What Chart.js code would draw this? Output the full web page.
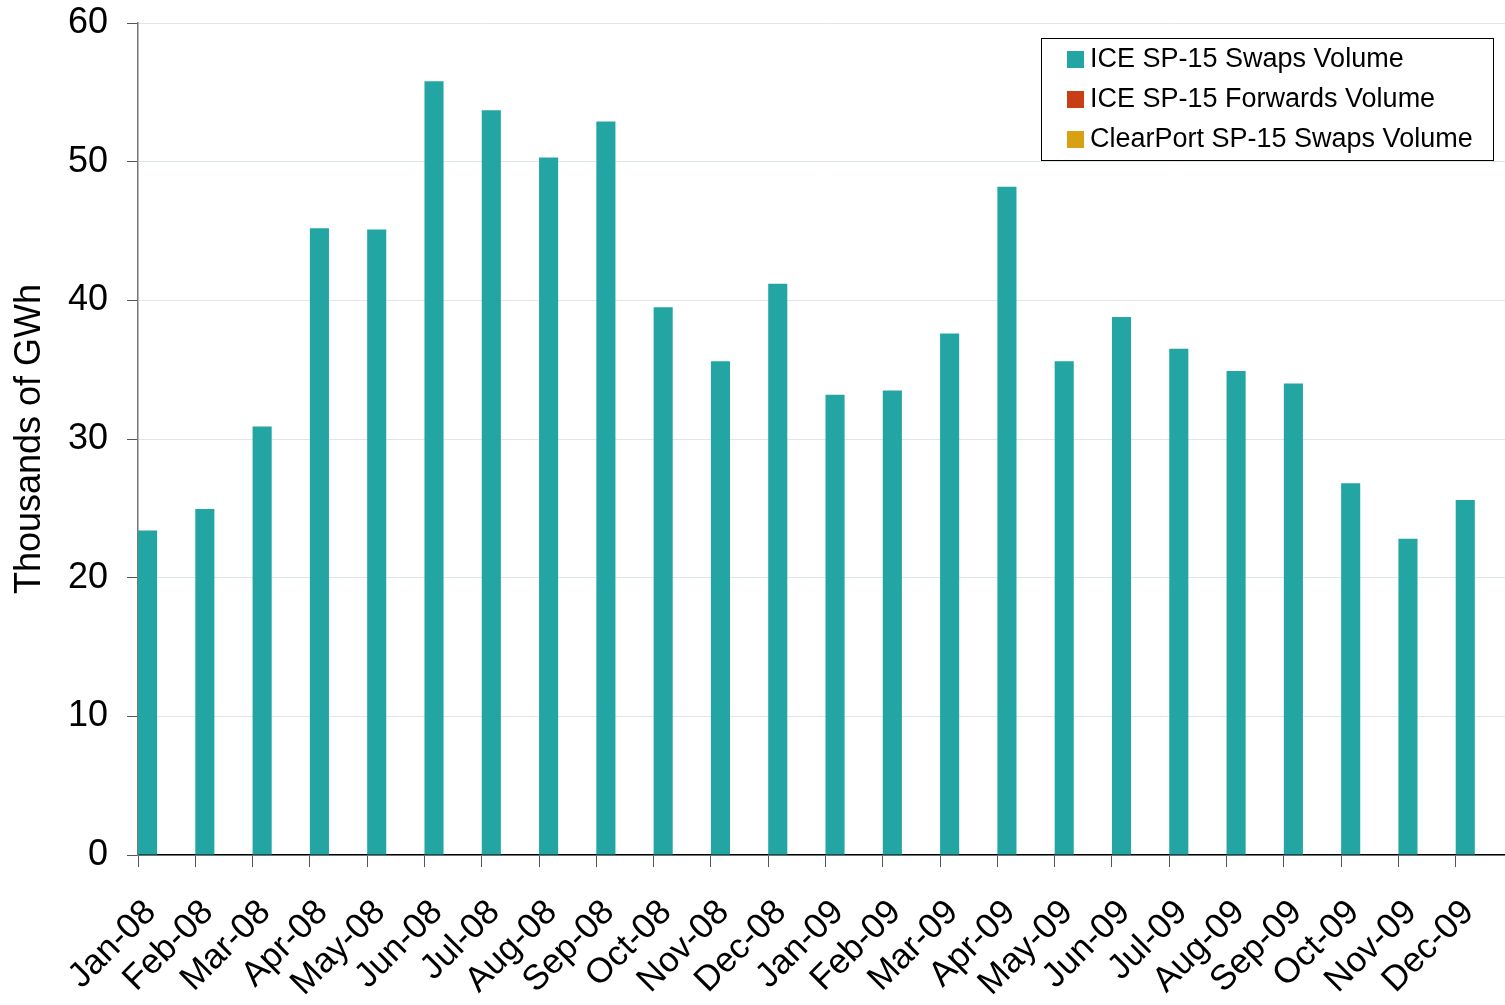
<!DOCTYPE html>
<html>
<head>
<meta charset="utf-8">
<script src="https://cdn.jsdelivr.net/npm/chart.js"></script>
<style>
  html, body {
    margin: 0;
    padding: 0;
    background: #fff;
    overflow: hidden;
  }
  .chart-wrap {
    width: 1513px;
    height: 1005px;
    position: relative;
  }
</style>
</head>
<body>
<div class="chart-wrap">
  <canvas id="myChart"></canvas>
</div>

<script>
  const months = [
    'Jan-08', 'Feb-08', 'Mar-08', 'Apr-08', 'May-08', 'Jun-08',
    'Jul-08', 'Aug-08', 'Sep-08', 'Oct-08', 'Nov-08', 'Dec-08',
    'Jan-09', 'Feb-09', 'Mar-09', 'Apr-09', 'May-09', 'Jun-09',
    'Jul-09', 'Aug-09', 'Sep-09', 'Oct-09', 'Nov-09', 'Dec-09',
  ];
  const iceSwaps = [
    23.4, 24.95, 30.9, 45.2, 45.1, 55.8, 53.7, 50.3, 52.9, 39.5, 35.6, 41.2,
    33.2, 33.5, 37.6, 48.2, 35.6, 38.8, 36.5, 34.9, 34.0, 26.8, 22.8, 25.6,
  ];
  const iceForwards = [
    0, 0, 0, 0, 0, 0, 0, 0, 0, 0, 0, 0,
    0, 0, 0, 0, 0, 0, 0, 0, 0, 0, 0, 0,
  ];
  const clearPortSwaps = [
    0, 0, 0, 0, 0, 0, 0, 0, 0, 0, 0, 0,
    0, 0, 0, 0, 0, 0, 0, 0, 0, 0, 0, 0,
  ];
  const yTicks = [0, 10, 20, 30, 40, 50, 60];

  const FONT = '"Liberation Sans", Arial, sans-serif';

  // legend box drawn inside the plot, like the original
  const boxLegend = {
    id: 'boxLegend',
    afterDraw(chart) {
      const ctx = chart.ctx;
      const x = 1041, y = 38, w = 452, h = 122;
      ctx.save();
      ctx.fillStyle = '#fff';
      ctx.fillRect(x, y, w, h);
      ctx.strokeStyle = '#000';
      ctx.lineWidth = 1;
      ctx.strokeRect(x + 0.5, y + 0.5, w, h);
      ctx.font = '27px ' + FONT;
      ctx.textBaseline = 'middle';
      chart.data.datasets.forEach((ds, i) => {
        const cy = y + 21 + i * 40;
        ctx.fillStyle = ds.backgroundColor;
        ctx.fillRect(x + 26, cy - 8, 17, 17);
        ctx.fillStyle = '#000';
        ctx.fillText(ds.label, x + 49, cy + 1);
      });
      ctx.restore();
    },
  };

  const data = {
    labels: months,
    datasets: [
      {
        label: 'ICE SP-15 Swaps Volume',
        data: iceSwaps,
        backgroundColor: 'rgb(35, 166, 163)',
      },
      {
        label: 'ICE SP-15 Forwards Volume',
        data: iceForwards,
        backgroundColor: 'rgb(200, 62, 22)',
      },
      {
        label: 'ClearPort SP-15 Swaps Volume',
        data: clearPortSwaps,
        backgroundColor: 'rgb(216, 161, 18)',
      },
    ],
  };

  const config = {
    type: 'bar',
    data: data,
    options: {
      responsive: true,
      maintainAspectRatio: false,
      animation: false,
      layout: { padding: { top: 23, right: 0, bottom: 0, left: 0 } },
      datasets: {
        bar: {
          categoryPercentage: 1.0,
          barPercentage: 1.0,
          borderWidth: 0,
          inflateAmount: 0,
        },
      },
      plugins: {
        legend: { display: false },
        tooltip: { enabled: false },
      },
      scales: {
        x: {
          z: 1,
          grid: {
            drawOnChartArea: false,
            drawTicks: true,
            tickLength: 12,
            tickColor: '#555',
          },
          border: { color: '#000', width: 1.5 },
          ticks: {
            color: '#000',
            font: { family: FONT, size: 35 },
            minRotation: 45,
            maxRotation: 45,
            autoSkip: false,
            padding: 25,
            labelOffset: -16,
          },
          afterFit(scale) {
            scale.height = 150;
            scale.paddingLeft = 0;
            scale.paddingRight = 0;
          },
        },
        y: {
          min: 0,
          max: 60,
          afterBuildTicks(scale) {
            scale.ticks = yTicks.map(v => ({ value: v }));
          },
          grid: {
            color: '#dde7eb',
            tickColor: '#555',
            tickLength: 11,
          },
          border: { color: '#777', width: 1.5 },
          ticks: {
            color: '#000',
            font: { family: FONT, size: 36 },
            padding: 19,
          },
          title: {
            display: true,
            text: 'Thousands of GWh',
            color: '#000',
            font: { family: FONT, size: 36 },
            padding: { top: 8, bottom: 0 },
          },
          afterFit(scale) {
            scale.width = 138;
            scale.paddingTop = 0;
            scale.paddingBottom = 0;
          },
        },
      },
    },
    plugins: [boxLegend],
  };

  var myChart = new Chart(document.getElementById('myChart'), config);
</script>
</body>
</html>
